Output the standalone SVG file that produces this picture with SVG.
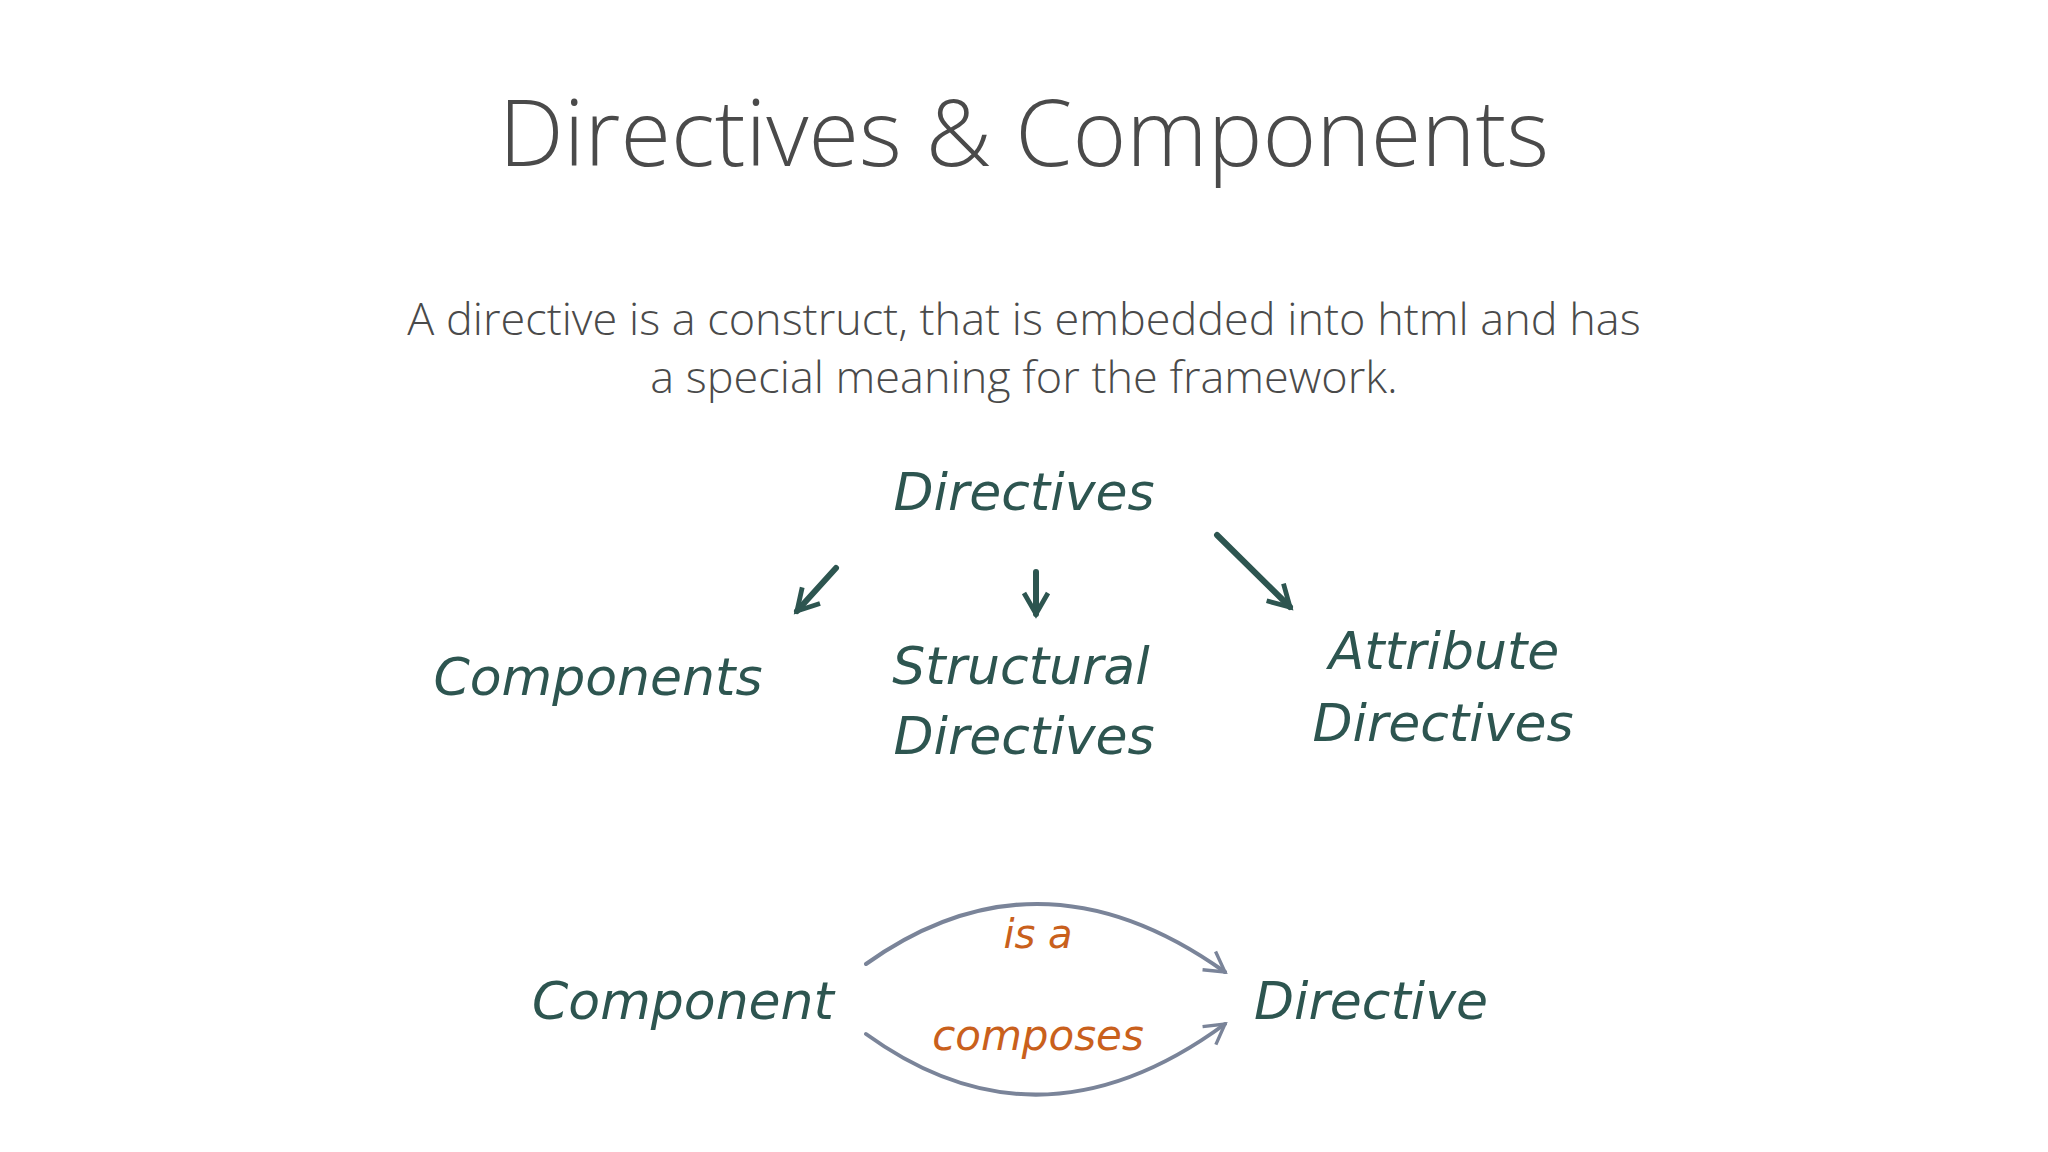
<svg xmlns="http://www.w3.org/2000/svg" width="2048" height="1152" viewBox="0 0 2048 1152">
<defs>
<style>
.t{font-family:"Open Sans","Liberation Sans",sans-serif;fill:#4a4a4a;text-anchor:middle}
.h{font-family:"DejaVu Sans","Liberation Sans",sans-serif;fill:#2d5550;text-anchor:middle;font-style:italic}
.o{font-family:"DejaVu Sans","Liberation Sans",sans-serif;fill:#c9601c;text-anchor:middle;font-style:italic}
.a{fill:none;stroke:#2d5550;stroke-width:6;stroke-linecap:round}
.c{fill:none;stroke:#7a8499;stroke-width:4;stroke-linecap:round}
</style>
<marker id="m" viewBox="0 0 10 10" refX="8" refY="5" markerWidth="5" markerHeight="5" orient="auto"><path d="M1,1 L8,5 L1,9" fill="none" stroke="#2d5550" stroke-width="1.6"/></marker>
<marker id="g" viewBox="0 0 10 10" refX="8" refY="5" markerWidth="7" markerHeight="7" orient="auto"><path d="M1,1 L8,5 L1,9" fill="none" stroke="#7a8499" stroke-width="1.2"/></marker>
</defs>
<rect width="2048" height="1152" fill="#ffffff"/>
<text class="t" x="1024" y="166" font-size="92" font-weight="300">Directives &amp; Components</text>
<text class="t" x="1024" y="335" font-size="45" font-weight="300">A directive is a construct, that is embedded into html and has</text>
<text class="t" x="1024" y="393" font-size="45" font-weight="300">a special meaning for the framework.</text>
<g id="n-directives"><text class="h" x="1024" y="510" font-size="52">Directives</text></g>
<g id="n-components"><text class="h" x="598" y="695" font-size="52">Components</text></g>
<g id="n-structural"><text class="h" x="1021" y="684" font-size="52">Structural</text><text class="h" x="1024" y="754" font-size="52">Directives</text></g>
<g id="n-attribute"><text class="h" x="1444" y="669" font-size="52">Attribute</text><text class="h" x="1443" y="741" font-size="52">Directives</text></g>
<g id="n-component"><text class="h" x="683" y="1019" font-size="52">Component</text></g>
<g id="n-directive"><text class="h" x="1371" y="1019" font-size="52">Directive</text></g>
<g id="connectors">
<path class="a" d="M836,568 L797,611" marker-end="url(#m)"/>
<path class="a" d="M1036,572 L1036,614" marker-end="url(#m)"/>
<path class="a" d="M1217,535 L1290,607" marker-end="url(#m)"/>
<path class="c" d="M866,964 Q1040,840 1225,972" marker-end="url(#g)"/>
<path class="c" d="M866,1034 Q1040,1160 1225,1024" marker-end="url(#g)"/>
<text class="o" x="1038" y="948" font-size="40">is  a</text>
<text class="o" x="1038" y="1050" font-size="42">composes</text>
</g>
</svg>
